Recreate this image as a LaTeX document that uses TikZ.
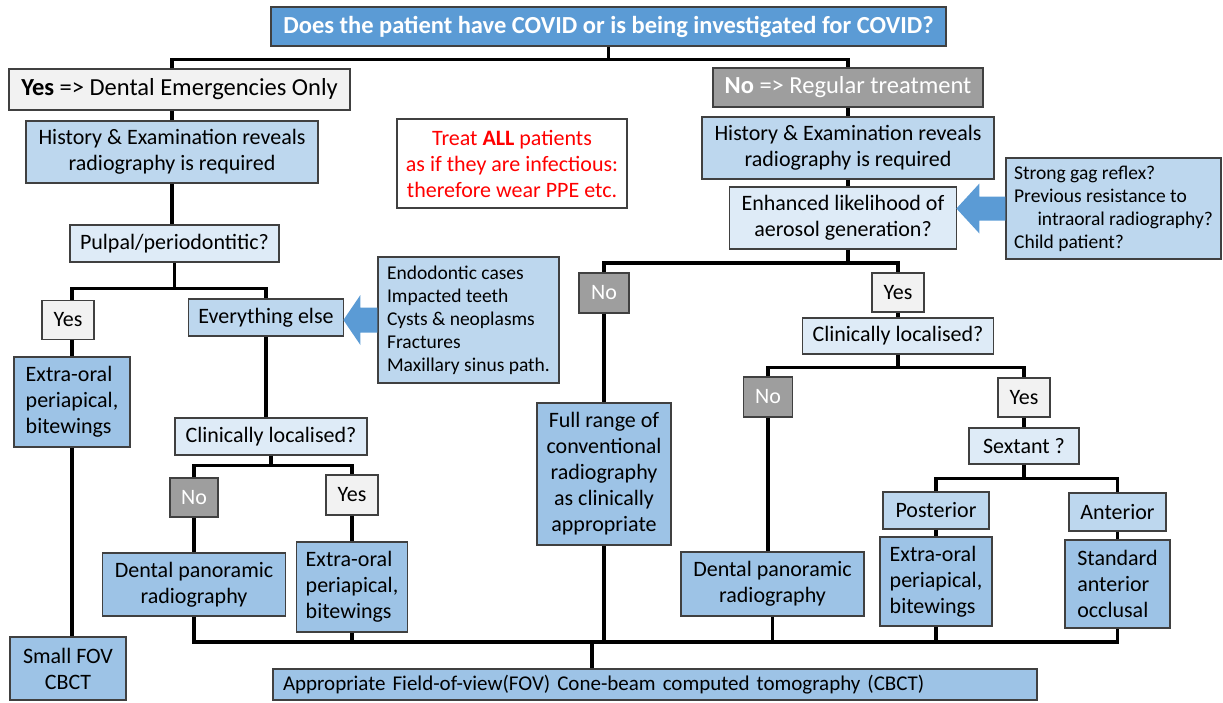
\documentclass[tikz,border=0pt]{standalone}
\usepackage{fontspec}
\setmainfont{Carlito}
\definecolor{topblue}{HTML}{5B9BD5}
\definecolor{lightblue}{HTML}{BDD7EE}
\definecolor{paleblue}{HTML}{DEEBF7}
\definecolor{midblue}{HTML}{9DC3E6}
\definecolor{yesgray}{HTML}{F2F2F2}
\definecolor{nogray}{HTML}{9E9E9E}
\definecolor{edgegray}{HTML}{404040}

\begin{document}
\begin{tikzpicture}[x=1pt, y=-1pt,
    box/.style={draw=edgegray, line width=1.2pt, inner sep=0pt, align=center, font=\fontsize{22}{26}\selectfont},
    headbox/.style={box, font=\fontsize{24.5}{28}\selectfont},
    sidebox/.style={box, fill=lightblue, align=left, font=\fontsize{19.5}{23}\selectfont},
    yesbox/.style={box, fill=yesgray, minimum width=52pt, minimum height=39pt},
    nobox/.style={box, fill=nogray, text=white, minimum width=50pt, minimum height=40pt},
    link/.style={black, line width=3.5pt}]
  \useasboundingbox (0,0) rectangle (1223,702);

  \node[headbox, fill=topblue, text=white, minimum width=675pt, minimum height=39pt, font=\fontsize{24.5}{28}\selectfont\bfseries] (q) at (608.5,26.5) {Does the patient have COVID or is being investigated for COVID?};
  \node[headbox, fill=yesgray, minimum width=341pt, minimum height=41pt] (yesA) at (179.5,89.5) {\textbf{Yes} => Dental Emergencies Only};
  \node[headbox, fill=nogray, text=white, minimum width=270pt, minimum height=39pt] (noA) at (848,87.5) {\textbf{No} => Regular treatment};
  \node[box, fill=white, text=red, minimum width=230pt, minimum height=89pt] (treat) at (512,163.5) {Treat \textbf{ALL} patients\\as if they are infectious:\\therefore wear PPE etc.};

  \node[box, fill=lightblue, minimum width=292pt, minimum height=62pt] (histA) at (172,152) {History \& Examination reveals\\radiography is required};
  \node[box, fill=paleblue, minimum width=209pt, minimum height=37pt] (pulp) at (174.5,243.5) {Pulpal/periodontitic?};
  \node[yesbox] (yesB) at (68,320) {Yes};
  \node[box, fill=midblue, align=left, minimum width=116pt, minimum height=90pt] (eoA) at (72,402) {Extra-oral\\periapical,\\bitewings};
  \node[box, fill=midblue, minimum width=116pt, minimum height=63pt] (fovA) at (68,668.5) {Small FOV\\CBCT};
  \node[box, fill=lightblue, minimum width=155pt, minimum height=37pt] (else) at (266,317.5) {Everything else};
  \node[sidebox, minimum width=181pt, minimum height=126pt] (endo) at (468.5,320) {Endodontic cases\\Impacted teeth\\Cysts \& neoplasms\\Fractures\\Maxillary sinus path.};
  \node[box, fill=paleblue, minimum width=192pt, minimum height=37pt] (clinA) at (271,436.5) {Clinically localised?};
  \node[nobox, minimum width=48pt, minimum height=39pt] (noB) at (194,497.5) {No};
  \node[yesbox, minimum height=40pt] (yesC) at (352,495) {Yes};
  \node[box, fill=midblue, minimum width=183pt, minimum height=63pt] (panA) at (194,584.5) {Dental panoramic\\radiography};
  \node[box, fill=midblue, align=left, minimum width=111pt, minimum height=90pt] (eoB) at (352,587) {Extra-oral\\periapical,\\bitewings};

  \node[box, fill=lightblue, minimum width=292pt, minimum height=62pt] (histB) at (848,148) {History \& Examination reveals\\radiography is required};
  \node[box, fill=paleblue, minimum width=227pt, minimum height=62pt] (enh) at (843,218) {Enhanced likelihood of\\aerosol generation?};
  \node[sidebox, minimum width=215pt, minimum height=101pt] (gag) at (1113.5,208.5) {Strong gag reflex?\\Previous resistance to\\\hspace*{1.2em}intraoral radiography?\\Child patient?};
  \node[nobox] (noC) at (604,293) {No};
  \node[box, fill=midblue, minimum width=134pt, minimum height=142pt] (full) at (604,474) {Full range of\\conventional\\radiography\\as clinically\\appropriate};
  \node[yesbox] (yesD) at (898,292.5) {Yes};
  \node[box, fill=paleblue, minimum width=191pt, minimum height=36pt] (clinB) at (898,336) {Clinically localised?};
  \node[nobox, minimum width=49pt] (noD) at (768,397) {No};
  \node[yesbox] (yesE) at (1024,397.5) {Yes};
  \node[box, fill=paleblue, minimum width=110pt, minimum height=36pt] (sext) at (1024,446) {Sextant ?};
  \node[box, fill=lightblue, minimum width=106pt, minimum height=37pt] (post) at (936,510.5) {Posterior};
  \node[box, fill=lightblue, minimum width=97pt, minimum height=38pt] (ant) at (1117.5,512) {Anterior};
  \node[box, fill=midblue, minimum width=183pt, minimum height=64pt] (panB) at (772.5,584) {Dental panoramic\\radiography};
  \node[box, fill=midblue, align=left, minimum width=112pt, minimum height=89pt] (eoC) at (936,581.5) {Extra-oral\\periapical,\\bitewings};
  \node[box, fill=midblue, align=left, minimum width=105pt, minimum height=88pt] (std) at (1117.5,584) {Standard\\anterior\\occlusal};
  \node[box, fill=midblue, align=left, inner xsep=10pt, text width=744pt, minimum height=31pt, font=\fontsize{21}{26}\selectfont] (cbct) at (655,684.5) {Appropriate Field-of-view(FOV) Cone-beam computed tomography (CBCT)};

  \fill[topblue] (endo.west) ++(0,-12.5) -- ++(-17,0) -- ++(0,-12.5) -- ++(-17,25) -- ++(17,25) -- ++(0,-12.5) -- ++(17,0) -- cycle;
  \fill[topblue] (gag.west) ++(0,-12) -- ++(-26,0) -- ++(0,-13) -- ++(-23,25) -- ++(23,25) -- ++(0,-13) -- ++(26,0) -- cycle;

  \draw[link] (q.south) -- ++(0,13) coordinate (b1);
  \draw[link] (histA.north |- yesA.north) |- (b1) -| (noA.north);
  \draw[link] (histA.north |- yesA.south) -- (histA.north);
  \draw[link] (histA.south) -- (histA.south |- pulp.north);
  \draw[link] (pulp.south) -- ++(0,26) coordinate (b2);
  \draw[link] (eoA.north |- yesB.north) |- (b2) -| (else.north);
  \draw[link] (eoA.north |- yesB.south) -- (eoA.north);
  \draw[link] (eoA.south) -- (eoA.south |- fovA.north);
  \draw[link] (else.south) -- (else.south |- clinA.north);
  \draw[link] (clinA.south) -- ++(0,10) coordinate (b3);
  \draw[link] (noB.north) |- (b3) -| (yesC.north);
  \draw[link] (noB.south) -- (noB.south |- panA.north);
  \draw[link] (yesC.south) -- (yesC.south |- eoB.north);

  \draw[link] (noA.south) -- (noA.south |- histB.north);
  \draw[link] (histB.south) -- (histB.south |- enh.north);
  \coordinate (b5) at (848,263);
  \draw[link] (enh.south -| b5) -- (b5);
  \draw[link] (noC.north) |- (b5) -| (yesD.north);
  \draw[link] (noC.south) -- (noC.south |- full.north);
  \draw[link] (yesD.south) -- (yesD.south |- clinB.north);
  \draw[link] (clinB.south) -- ++(0,13) coordinate (b6);
  \draw[link] (noD.north) |- (b6) -| (yesE.north);
  \draw[link] (noD.south) -- (noD.south |- panB.north);
  \draw[link] (yesE.south) -- (yesE.south |- sext.north);
  \draw[link] (sext.south) -- ++(0,14) coordinate (b7);
  \draw[link] (post.north) |- (b7) -| (ant.north);
  \draw[link] (post.south) -- (post.south |- eoC.north);
  \draw[link] (ant.south) -- (ant.south |- std.north);

  \coordinate (b4) at (592,642);
  \draw[link] (panA.south) |- (std.south |- b4) -- (std.south);
  \draw[link] (eoB.south) -- (eoB.south |- b4);
  \draw[link] (full.south) -- (full.south |- b4);
  \draw[link] (panB.south) -- (panB.south |- b4);
  \draw[link] (eoC.south) -- (eoC.south |- b4);
  \draw[link] (b4) -- (b4 |- cbct.north);
\end{tikzpicture}
\end{document}
